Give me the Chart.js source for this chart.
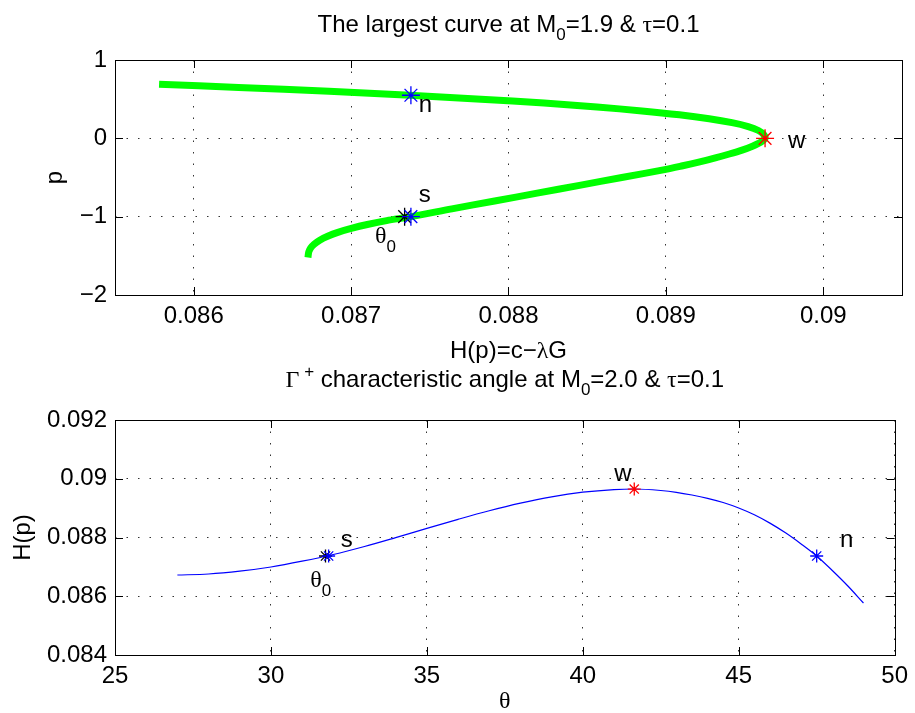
<!DOCTYPE html>
<html>
<head>
<meta charset="utf-8">
<script src="https://cdn.jsdelivr.net/npm/chart.js@4.4.1/dist/chart.umd.min.js"></script>
<style>
  html, body { margin: 0; padding: 0; background: #fff; }
  #wrap { position: relative; width: 915px; height: 713px; }
  #wrap canvas { position: absolute; left: 0; top: 0; }
</style>
</head>
<body>
<div id="wrap">
  <canvas id="topChart" width="915" height="713"></canvas>
  <canvas id="bottomChart" width="915" height="713"></canvas>
</div>
<script>
//  UPPER PANEL  (p against H(p), the largest curve)
var curveP = [-1.52, -1.45, -1.40, -1.35, -1.30, -1.25, -1.20, -1.15, -1.10, -1.05,
  -1.00, -0.90, -0.80, -0.70, -0.60, -0.50, -0.40, -0.35, -0.30, -0.25,
  -0.20, -0.15, -0.10, -0.05, 0.00, 0.05, 0.10, 0.15, 0.20, 0.25,
  0.30, 0.35, 0.40, 0.45, 0.50, 0.55, 0.60, 0.65, 0.69];
var curveH = [0.086726, 0.086731, 0.086743, 0.086766, 0.086801, 0.086851, 0.086916, 0.087001, 0.087103, 0.087226,
  0.087381, 0.08764, 0.087912, 0.088182, 0.088451, 0.08872, 0.088992, 0.089107, 0.089215, 0.089314,
  0.089403, 0.089484, 0.08955, 0.089602, 0.08963, 0.089621, 0.089588, 0.089523, 0.08942, 0.089275,
  0.089086, 0.088848, 0.088562, 0.088226, 0.087825, 0.087374, 0.08686, 0.086285, 0.08578];
var topXTicks = [0.086, 0.087, 0.088, 0.089, 0.09];
var topYTicks = [-2, -1, 0, 1];

// marked points: theta0, s, n, w
var topMarkH = [0.08734, 0.08738, 0.08738, 0.08963];
var topMarkP = [-1.0, -1.0, 0.55, 0.0];

//  LOWER PANEL  (H(p) against the characteristic angle)
var angleTheta = [27, 28, 29, 30, 31, 32, 33, 34, 35, 36, 37, 38, 39, 40, 41, 41.65,
  42.5, 43, 43.5, 44, 44.5, 45, 45.5, 46, 46.5, 47, 47.5, 48, 48.5, 49];
var angleH = [0.086723, 0.086757, 0.086853, 0.086996, 0.087193, 0.087421, 0.087694, 0.087997, 0.08831, 0.088619,
  0.088912, 0.089171, 0.089385, 0.089542, 0.089631, 0.089651,
  0.0896, 0.089539, 0.089447, 0.089334, 0.089191, 0.089004, 0.088773, 0.08849, 0.08816, 0.087782,
  0.08737, 0.086877, 0.086349, 0.08577];
var lowXTicks = [25, 30, 35, 40, 45, 50];
var lowYTicks = [0.084, 0.086, 0.088, 0.09, 0.092];

var lowMarkTheta = [31.75, 31.85, 47.5, 41.65];
var lowMarkH = [0.08737, 0.08737, 0.08737, 0.08965];

var markColors = ["#000000", "#0000ff", "#0000ff", "#ff0000"];

//  FONTS
var SANS = '"Liberation Sans", Arial, Helvetica, sans-serif';
var SERIF = '"Liberation Serif", "Times New Roman", serif';
var F_MAIN = "24px " + SANS;
var F_SUB = "17px " + SANS;
var F_GREEK = "24px " + SERIF;

// text labels next to the marks, in data units
var topNotes = [
  { x: 0.08743, y: 0.336, parts: [{ t: "n", font: F_MAIN }] },
  { x: 0.08743, y: -0.814, parts: [{ t: "s", font: F_MAIN }] },
  { x: 0.087152, y: -1.337, parts: [{ t: "θ", font: F_GREEK }, { t: "0", font: F_SUB, dy: 9 }] },
  { x: 0.089776, y: -0.124, parts: [{ t: "w", font: F_MAIN }] },
];
var lowNotes = [
  { x: 32.24, y: 0.087677, parts: [{ t: "s", font: F_MAIN }] },
  { x: 31.26, y: 0.086315, parts: [{ t: "θ", font: F_GREEK }, { t: "0", font: F_SUB, dy: 9 }] },
  { x: 41.01, y: 0.089923, parts: [{ t: "w", font: F_MAIN }] },
  { x: 48.25, y: 0.087677, parts: [{ t: "n", font: F_MAIN }] },
];

//  HELPERS
function toPoints(xs, ys) {
  var out = [];
  for (var i = 0; i < xs.length; i++) out.push({ x: xs[i], y: ys[i] });
  return out;
}

function fmt(v) {
  return parseFloat(Number(v).toFixed(4)).toString().replace("-", "\u2212");
}

function textWidth(ctx, parts) {
  var w = 0;
  for (var i = 0; i < parts.length; i++) {
    ctx.font = parts[i].font;
    w += ctx.measureText(parts[i].t).width;
  }
  return w;
}

// draw a run of text pieces with their own fonts and vertical shifts
function drawRich(ctx, parts, x, y, align) {
  ctx.textAlign = "left";
  ctx.textBaseline = "alphabetic";
  var cx = align === "center" ? x - textWidth(ctx, parts) / 2 : x;
  for (var i = 0; i < parts.length; i++) {
    ctx.font = parts[i].font;
    ctx.fillText(parts[i].t, cx, y + (parts[i].dy || 0));
    cx += ctx.measureText(parts[i].t).width;
  }
}

// box, inward tick marks and all the texts
function framePlugin(notes, decorate) {
  return {
    id: "frame",
    afterDraw: function (chart) {
      var ctx = chart.ctx;
      var a = chart.chartArea;
      var sx = chart.scales.x;
      var sy = chart.scales.y;
      var L = 8;
      ctx.save();
      ctx.strokeStyle = "#000";
      ctx.lineWidth = 1;
      ctx.beginPath();
      sx.ticks.forEach(function (t) {
        var px = Math.round(sx.getPixelForValue(t.value)) + 0.5;
        ctx.moveTo(px, a.bottom);
        ctx.lineTo(px, a.bottom - L);
        ctx.moveTo(px, a.top);
        ctx.lineTo(px, a.top + L);
      });
      sy.ticks.forEach(function (t) {
        var py = Math.round(sy.getPixelForValue(t.value)) + 0.5;
        ctx.moveTo(a.left, py);
        ctx.lineTo(a.left + L, py);
        ctx.moveTo(a.right, py);
        ctx.lineTo(a.right - L, py);
      });
      ctx.stroke();
      ctx.strokeRect(Math.round(a.left) + 0.5, Math.round(a.top) + 0.5,
        Math.round(a.right - a.left), Math.round(a.bottom - a.top));

      ctx.fillStyle = "#000";
      notes.forEach(function (n) {
        drawRich(ctx, n.parts, sx.getPixelForValue(n.x), sy.getPixelForValue(n.y), "left");
      });
      decorate(ctx, a);
      ctx.restore();
    },
  };
}

function makePanel(id, o) {
  var tickFont = { family: SANS, size: 24 };
  return new Chart(document.getElementById(id), {
    type: "line",
    data: {
      datasets: [
        {
          data: toPoints(o.markX, o.markY),
          showLine: false,
          pointStyle: "star",
          pointRadius: o.markRadius,
          pointBorderWidth: 1.3,
          pointBorderColor: markColors,
          pointBackgroundColor: markColors,
          order: 0,
        },
        {
          data: toPoints(o.lineX, o.lineY),
          borderColor: o.lineColor,
          borderWidth: o.lineWidth,
          borderCapStyle: "butt",
          borderJoinStyle: "round",
          tension: o.tension,
          cubicInterpolationMode: o.interp,
          pointRadius: 0,
          fill: false,
          order: 5,
        },
      ],
    },
    options: {
      responsive: false,
      animation: false,
      devicePixelRatio: 1,
      layout: { padding: o.padding },
      plugins: { legend: { display: false }, tooltip: { enabled: false } },
      scales: {
        x: {
          type: "linear",
          min: o.xMin,
          max: o.xMax,
          afterBuildTicks: function (s) { s.ticks = o.xTicks.map(function (v) { return { value: v }; }); },
          afterFit: function (s) { s.height = 40; },
          grid: { color: "#333", lineWidth: 1, drawTicks: false },
          border: { display: false, dash: [1.5, 10] },
          ticks: { color: "#000", font: tickFont, padding: 7, maxRotation: 0, callback: fmt },
        },
        y: {
          type: "linear",
          min: o.yMin,
          max: o.yMax,
          afterBuildTicks: function (s) { s.ticks = o.yTicks.map(function (v) { return { value: v }; }); },
          afterFit: function (s) { s.width = 115; },
          grid: { color: "#333", lineWidth: 1, drawTicks: false },
          border: { display: false, dash: [1.5, 10] },
          ticks: { color: "#000", font: tickFont, padding: 8, callback: fmt },
        },
      },
    },
    plugins: [framePlugin(o.notes, o.decorate)],
  });
}

//  DRAW
makePanel("topChart", {
  lineX: curveH, lineY: curveP, lineColor: "#00ff00", lineWidth: 7,
  tension: 0.3, interp: "default",
  markX: topMarkH, markY: topMarkP, markRadius: 9,
  xMin: 0.0855, xMax: 0.0905, yMin: -2, yMax: 1,
  xTicks: topXTicks, yTicks: topYTicks,
  padding: { left: 0, right: 13, top: 60, bottom: 378 },
  notes: topNotes,
  decorate: function (ctx, a) {
    var cx = (a.left + a.right) / 2;
    drawRich(ctx, [
      { t: "The largest curve at M", font: F_MAIN },
      { t: "0", font: F_SUB, dy: 8 },
      { t: "=1.9 & ", font: F_MAIN },
      { t: "τ", font: F_GREEK },
      { t: "=0.1", font: F_MAIN },
    ], cx, 32, "center");
    drawRich(ctx, [
      { t: "H(p)=c\u2212", font: F_MAIN },
      { t: "λ", font: F_GREEK },
      { t: "G", font: F_MAIN },
    ], cx, 358, "center");
    ctx.save();
    ctx.translate(62, (a.top + a.bottom) / 2);
    ctx.rotate(-Math.PI / 2);
    drawRich(ctx, [{ t: "p", font: F_MAIN }], 0, 0, "center");
    ctx.restore();
  },
});

makePanel("bottomChart", {
  lineX: angleTheta, lineY: angleH, lineColor: "#0000ff", lineWidth: 1.2,
  tension: 0.4, interp: "monotone",
  markX: lowMarkTheta, markY: lowMarkH, markRadius: 6.5,
  xMin: 25, xMax: 50, yMin: 0.084, yMax: 0.092,
  xTicks: lowXTicks, yTicks: lowYTicks,
  padding: { left: 0, right: 13, top: 420, bottom: 18 },
  notes: lowNotes,
  decorate: function (ctx, a) {
    var cx = (a.left + a.right) / 2;
    drawRich(ctx, [
      { t: "Γ", font: F_GREEK },
      { t: " +", font: F_SUB, dy: -10 },
      { t: " characteristic angle at M", font: F_MAIN },
      { t: "0", font: F_SUB, dy: 8 },
      { t: "=2.0 & ", font: F_MAIN },
      { t: "τ", font: F_GREEK },
      { t: "=0.1", font: F_MAIN },
    ], cx, 387, "center");
    drawRich(ctx, [{ t: "θ", font: F_GREEK }], cx, 708, "center");
    ctx.save();
    ctx.translate(30, (a.top + a.bottom) / 2);
    ctx.rotate(-Math.PI / 2);
    drawRich(ctx, [{ t: "H(p)", font: F_MAIN }], 0, 0, "center");
    ctx.restore();
  },
});
</script>
</body>
</html>
